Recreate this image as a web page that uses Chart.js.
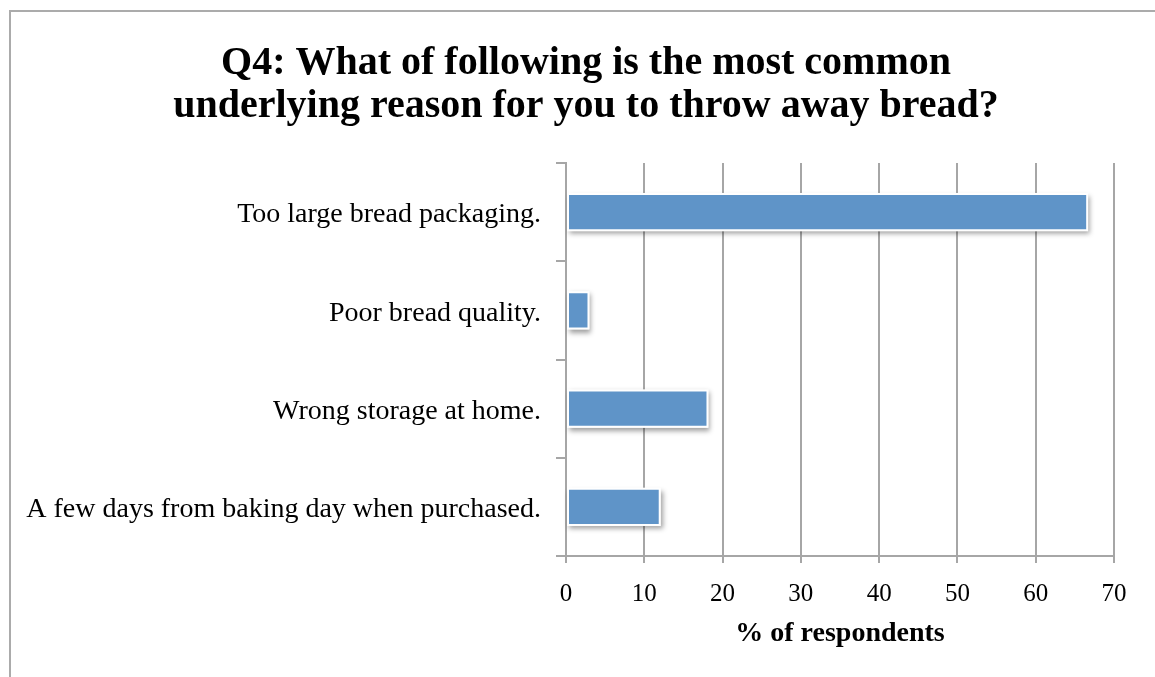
<!DOCTYPE html>
<html lang="en">
<head>
<meta charset="UTF-8">
<title>Q4: Reasons for throwing away bread</title>
<style>
    html, body { margin: 0; padding: 0; background: #ffffff; }
    #wrap { position: relative; width: 1155px; height: 677px; overflow: hidden; }
    #frame { position: absolute; left: 9px; top: 10px; width: 1200px; height: 720px; border: 2px solid #ababab; box-sizing: border-box; }
    #chartBox { position: absolute; left: 0; top: 0; width: 1155px; height: 677px; }
</style>
</head>
<body>
<div id="wrap">
    <div id="frame"></div>
    <div id="chartBox"><canvas id="breadChart"></canvas></div>
</div>

<script src="https://cdn.jsdelivr.net/npm/chart.js"></script>
<script>
const titleLines = ['Q4: What of following is the most common', 'underlying reason for you to throw away bread?'];
const reasons = [
    'Too large bread packaging.',
    'Poor bread quality.',
    'Wrong storage at home.',
    'A few days from baking day when purchased.'
];
const respondentShare = [66.7, 3.0, 18.2, 12.1];
const axisMin = 0;
const axisMax = 70;
const axisStep = 10;
const axisTitle = '% of respondents';

const serif = 'Liberation Serif';
const gridGrey = '#a6a6a6';

// two-line heading, centred a little right of the canvas middle like the original sheet
const headline = {
    id: 'headline',
    afterDraw(chart) {
        const ctx = chart.ctx;
        ctx.save();
        ctx.fillStyle = '#000000';
        ctx.font = 'bold 40px "' + serif + '"';
        ctx.textAlign = 'center';
        ctx.textBaseline = 'alphabetic';
        titleLines.forEach((line, i) => ctx.fillText(line, 586, 74 + i * 43));
        ctx.restore();
    }
};

// soft drop shadow painted under each bar before the bars themselves
const barShadow = {
    id: 'barShadow',
    beforeDatasetsDraw(chart) {
        const ctx = chart.ctx;
        const meta = chart.getDatasetMeta(0);
        ctx.save();
        ctx.shadowColor = 'rgba(0, 0, 0, 0.38)';
        ctx.shadowBlur = 5;
        ctx.shadowOffsetX = 2;
        ctx.shadowOffsetY = 3;
        ctx.fillStyle = '#ffffff';
        meta.data.forEach(bar => {
            const p = bar.getProps(['x', 'y', 'base', 'height'], true);
            ctx.fillRect(Math.min(p.base, p.x), p.y - p.height / 2, Math.abs(p.x - p.base), p.height);
        });
        ctx.restore();
    }
};

const ctx = document.getElementById('breadChart').getContext('2d');
new Chart(ctx, {
    type: 'bar',
    data: {
        labels: reasons,
        datasets: [{
            data: respondentShare,
            backgroundColor: '#5f94c8',
            borderColor: '#ffffff',
            borderWidth: 2,
            borderSkipped: false,
            categoryPercentage: 1,
            barPercentage: 0.39
        }]
    },
    options: {
        indexAxis: 'y',
        responsive: true,
        maintainAspectRatio: false,
        animation: false,
        layout: { padding: { left: 0, right: 41, top: 163, bottom: 0 } },
        plugins: {
            legend: { display: false },
            tooltip: { enabled: false },
            title: { display: false }
        },
        scales: {
            x: {
                min: axisMin,
                max: axisMax,
                ticks: {
                    stepSize: axisStep,
                    color: '#000000',
                    font: { family: serif, size: 25 },
                    padding: 16
                },
                grid: { color: gridGrey, lineWidth: 2, tickLength: 7 },
                border: { display: true, color: gridGrey, width: 2 },
                title: {
                    display: true,
                    text: axisTitle,
                    color: '#000000',
                    font: { family: serif, size: 28, weight: 'bold', lineHeight: 1.2 },
                    padding: { top: 4, bottom: 26 }
                },
                afterFit(scale) { scale.height = 121; }
            },
            y: {
                z: 1,
                ticks: {
                    color: '#000000',
                    font: { family: serif, size: 28 },
                    padding: 15,
                    labelOffset: 3
                },
                grid: { drawOnChartArea: false, color: gridGrey, lineWidth: 2, tickLength: 10 },
                border: { display: true, color: gridGrey, width: 2 },
                afterFit(scale) { scale.width = 566; }
            }
        }
    },
    plugins: [barShadow, headline]
});
</script>
</body>
</html>
